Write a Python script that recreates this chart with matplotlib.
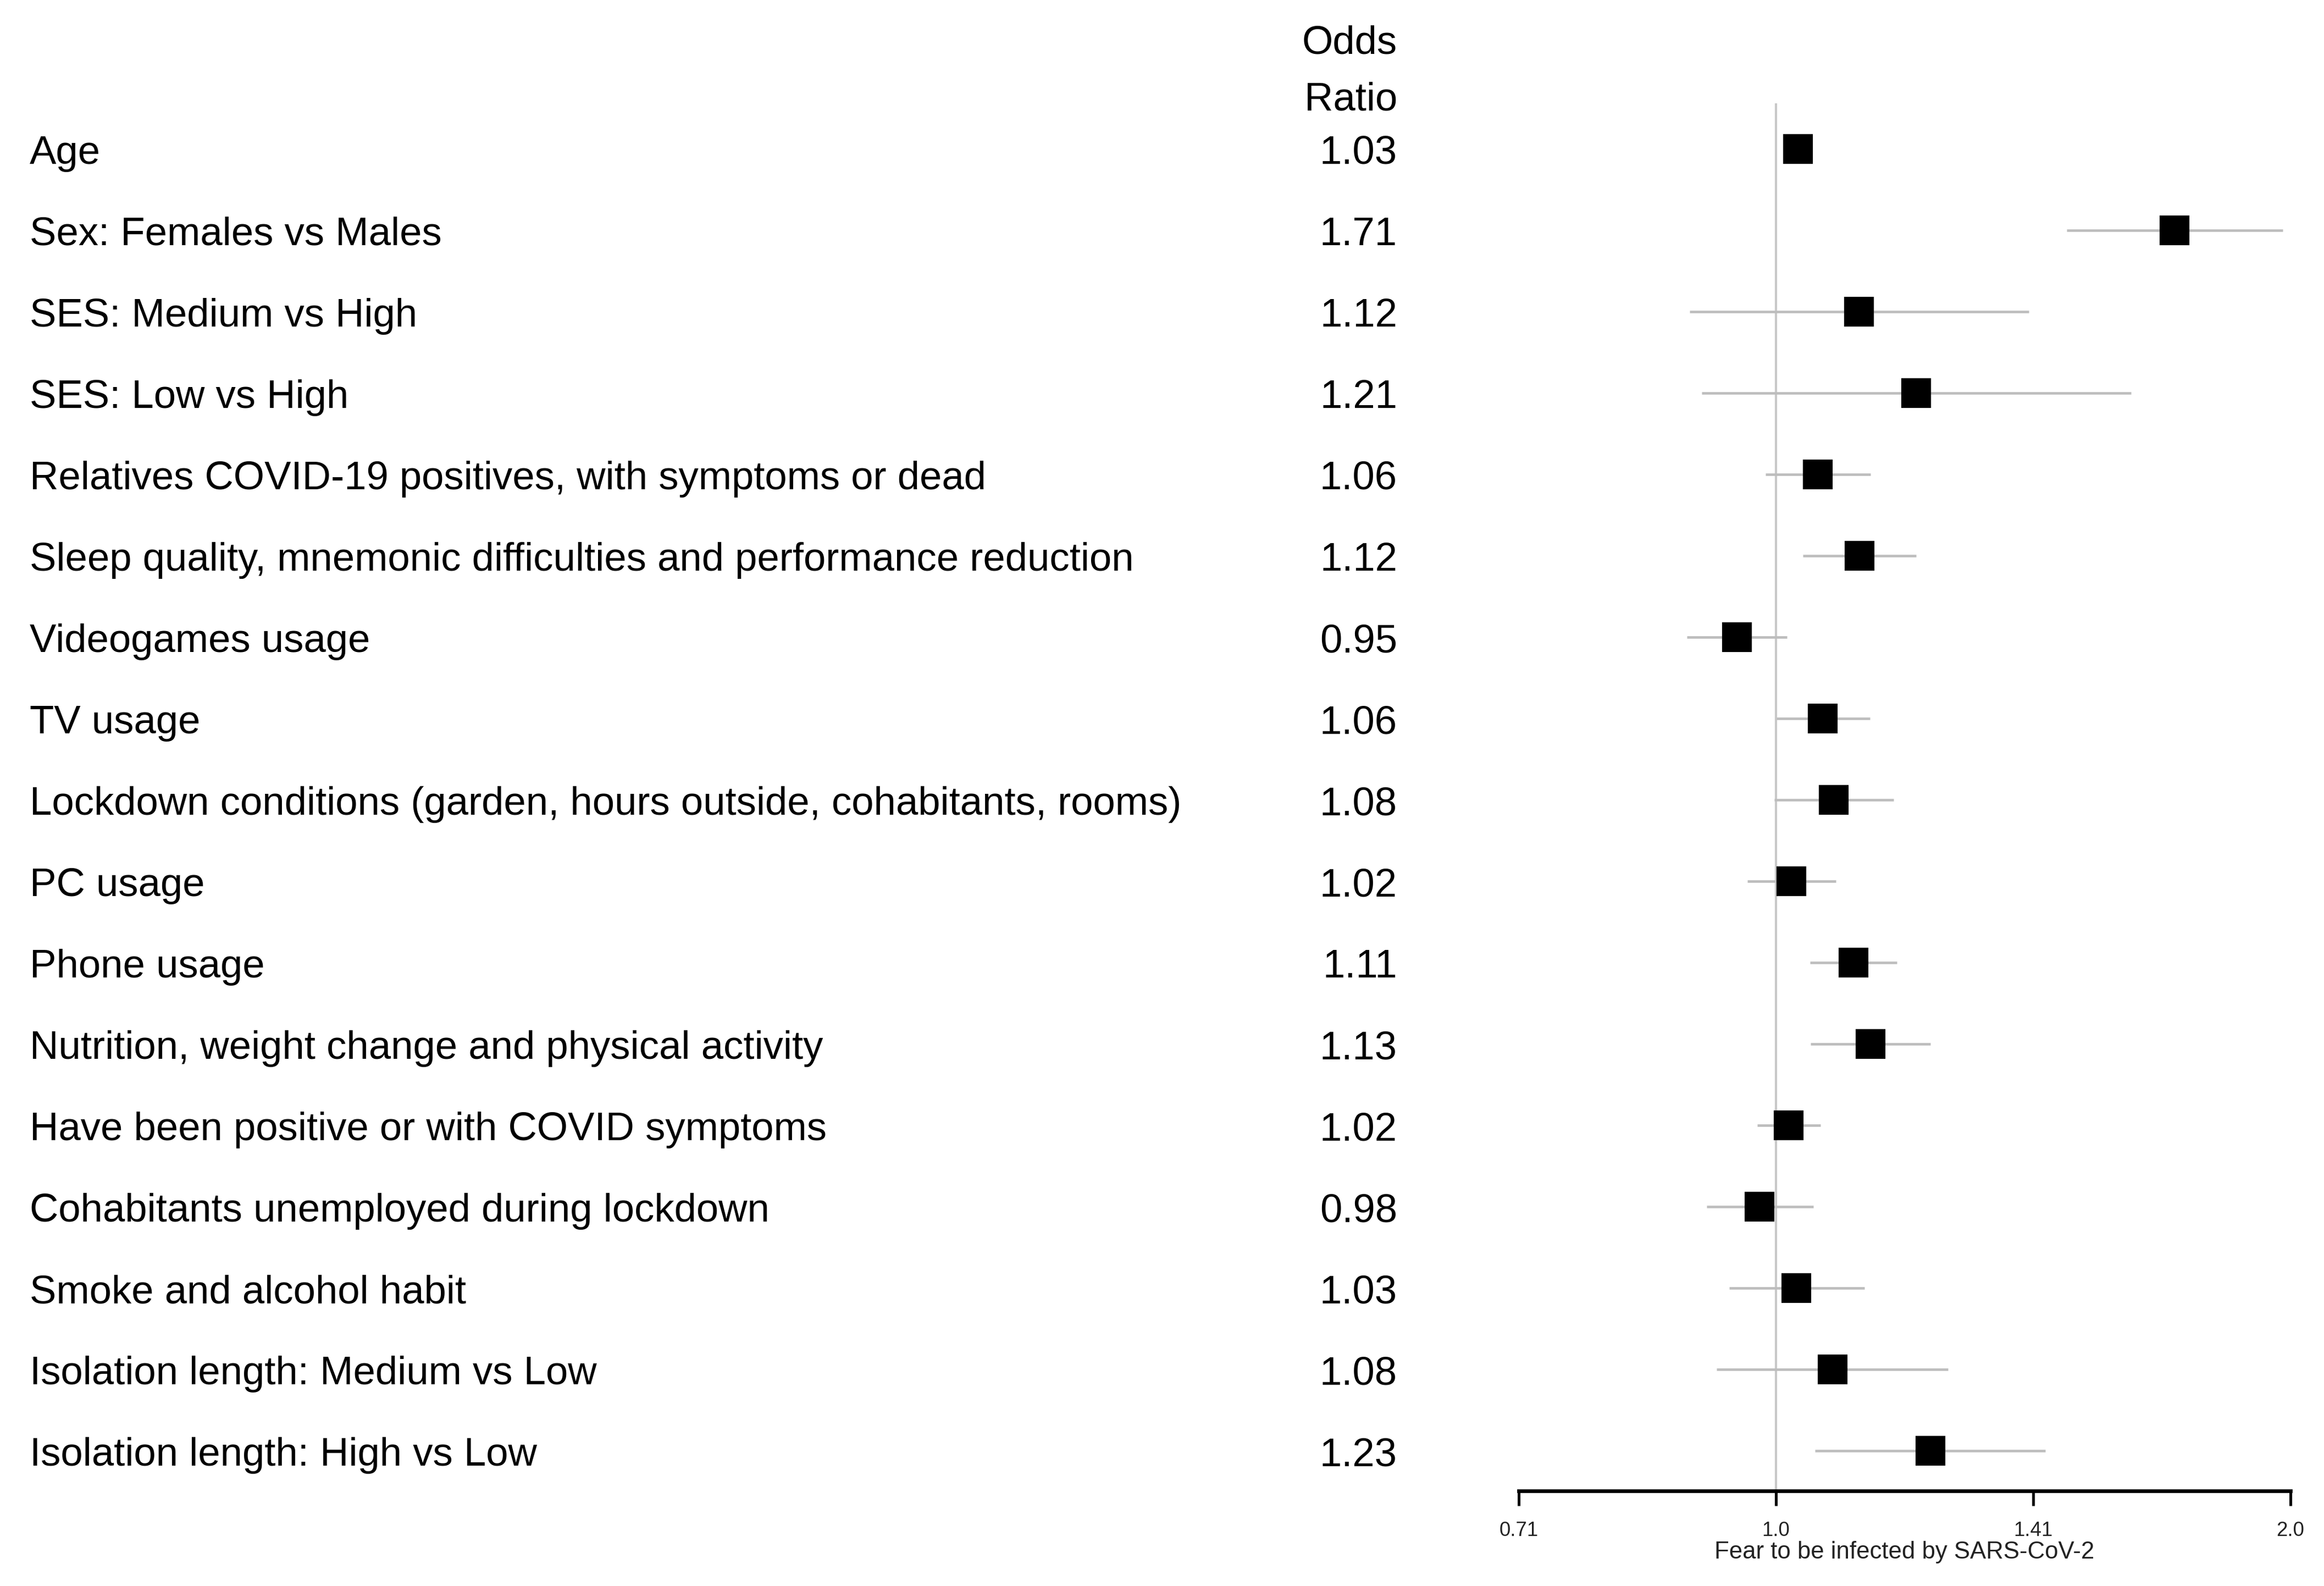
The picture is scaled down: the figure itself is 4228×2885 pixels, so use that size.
import numpy as np
import matplotlib
matplotlib.use("Agg")
import matplotlib.pyplot as plt
import matplotlib.transforms as mtransforms

plt.rcParams['font.family'] = ['Liberation Sans', 'DejaVu Sans']

labels = [
    "Age",
    "Sex: Females vs Males",
    "SES: Medium vs High",
    "SES: Low vs High",
    "Relatives COVID-19 positives, with symptoms or dead",
    "Sleep quality, mnemonic difficulties and performance reduction",
    "Videogames usage",
    "TV usage",
    "Lockdown conditions (garden, hours outside, cohabitants, rooms)",
    "PC usage",
    "Phone usage",
    "Nutrition, weight change and physical activity",
    "Have been positive or with COVID symptoms",
    "Cohabitants unemployed during lockdown",
    "Smoke and alcohol habit",
    "Isolation length: Medium vs Low",
    "Isolation length: High vs Low",
]
# printed odds ratios (column of text)
odds_ratio_text = ["1.03", "1.71", "1.12", "1.21", "1.06", "1.12", "0.95", "1.06",
                   "1.08", "1.02", "1.11", "1.13", "1.02", "0.98", "1.03", "1.08",
                   "1.23"]
# point estimates
estimate = [1.030, 1.711, 1.118, 1.208, 1.058, 1.119, 0.949, 1.065, 1.081,
            1.021, 1.110, 1.136, 1.017, 0.978, 1.028, 1.079, 1.231]
ci_low = [1.02, 1.48, 0.89, 0.905, 0.986, 1.037, 0.887, 1.001, 0.998, 0.962,
          1.047, 1.048, 0.975, 0.911, 0.939, 0.923, 1.054]
ci_high = [1.04, 1.98, 1.406, 1.614, 1.136, 1.208, 1.015, 1.135, 1.172, 1.084,
           1.177, 1.231, 1.062, 1.052, 1.127, 1.261, 1.437]
tick_values = [2 ** -0.5, 1.0, 2 ** 0.5, 2.0]
tick_labels = ["0.71", "1.0", "1.41", "2.0"]
x_label = "Fear to be infected by SARS-CoV-2"

W, H, DPI = 4228, 2886, 300
fig = plt.figure(figsize=(W / DPI, H / DPI), dpi=DPI)
ax = fig.add_axes([2763 / W, 1 - 2713 / H, (4167 - 2763) / W, (2713 - 189) / H])

rows = np.arange(len(labels))
ax.axvline(1.0, color='#c8c8c8', lw=1.0, zorder=1)
ax.hlines(rows, ci_low, ci_high, color='#bdbdbd', lw=1.1, zorder=2)
ax.plot(estimate, rows, linestyle='none', marker='s', ms=12.2,
        color='black', zorder=3)

ax.set_xscale('log', base=2)
ax.set_xlim(tick_values[0], tick_values[-1])
ax.set_ylim(16.49, -0.56)
ax.set_xticks(tick_values)
ax.set_xticklabels(tick_labels)
ax.minorticks_off()
ax.set_yticks([])
for s in ['top', 'right', 'left']:
    ax.spines[s].set_visible(False)
ax.spines['bottom'].set_linewidth(1.6)
ax.tick_params(axis='x', length=6.5, width=1.2, pad=6.5, labelsize=8.8,
               colors='black', labelcolor='#222222')
ax.set_xlabel(x_label, fontsize=10.5, labelpad=0.3, color='#222222')

trans = mtransforms.blended_transform_factory(fig.transFigure, ax.transData)
dy = 0.05
fs = 17.4
for i, (lab, ortxt) in enumerate(zip(labels, odds_ratio_text)):
    fig.text(54 / W, i + dy, lab, transform=trans, ha='left', va='center',
             fontsize=fs, color='black')
    fig.text(2542 / W, i + dy, ortxt, transform=trans, ha='right',
             va='center', fontsize=fs, color='black')
fig.text(2542 / W, -1.35 + dy, "Odds", transform=trans, ha='right', va='center',
         fontsize=fs, color='black')
fig.text(2542 / W, -0.655 + dy, "Ratio", transform=trans, ha='right', va='center',
         fontsize=fs, color='black')

fig.savefig("out.png", dpi=DPI, facecolor='white')
